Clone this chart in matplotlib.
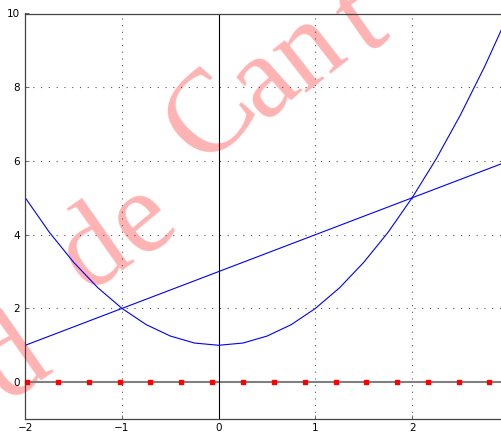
import matplotlib
matplotlib.use('Agg')
import matplotlib.pyplot as plt

# curve samples
curve_x = [-2.0, -1.75, -1.5, -1.25, -1.0, -0.75, -0.5, -0.25, 0.0, 0.25, 0.5,
           0.75, 1.0, 1.25, 1.5, 1.75, 2.0, 2.25, 2.5, 2.75, 3.0]
curve_y = [5.0, 4.06, 3.25, 2.56, 2.0, 1.56, 1.25, 1.06, 1.0, 1.06, 1.25,
           1.56, 2.0, 2.56, 3.25, 4.06, 5.0, 6.06, 7.25, 8.56, 10.0]

# straight line
line_x = [-2.0, -1.0, 0.0, 1.0, 2.0, 3.0]
line_y = [1.0, 2.0, 3.0, 4.0, 5.0, 6.0]

# markers on the x axis
dots_x = [-1.98, -1.66, -1.34, -1.02, -0.71, -0.39, -0.07, 0.25, 0.57, 0.89,
          1.21, 1.52, 1.84, 2.16, 2.48, 2.80]
dots_y = [0.0] * len(dots_x)

xticks = [-2, -1, 0, 1, 2]
yticks = [0, 2, 4, 6, 8, 10]

W, H = 502, 434
fig = plt.figure(figsize=(W / 100, H / 100), dpi=100)
ax = fig.add_axes([25.3 / W, 15 / H, 483.5 / W, 405.5 / H])
ax.set_xlim(-2, 3)
ax.set_ylim(-1, 10)
ax.set_facecolor('none')

# watermark, one glyph at a time along a bent baseline (pixel centre, angle)
stamp = [("d", 14, 362, 35), ("d", 95, 252, 35), ("e", 142, 220, 40),
         ("C", 212, 118, 48), ("a", 264, 82, 42), ("n", 309, 52, 38),
         ("t", 362, 22, 35)]
for ch, px, py, rot in stamp:
    fig.text(px / W, 1 - py / H, ch, fontsize=85, family='Liberation Serif',
             color='#ffb3b3', rotation=rot, rotation_mode='anchor',
             ha='center', va='center', zorder=-1)

# grid
for gx in [-1, 1, 2]:
    ax.axvline(gx, color='#555555', lw=0.8, ls=(0, (1, 5)), zorder=1)
for gy in [2, 4, 6, 8]:
    ax.axhline(gy, color='#555555', lw=0.8, ls=(0, (1, 6)), zorder=1)

ax.axhline(0, color='#808080', lw=1.5, zorder=2)
ax.axvline(0, color='black', lw=0.8, zorder=2)

ax.plot(curve_x, curve_y, color='blue', lw=0.8, zorder=3)
ax.plot(line_x, line_y, color='blue', lw=0.8, zorder=3)
ax.plot(dots_x, dots_y, 's', color='red', ms=3.3, mec='red', zorder=4,
        clip_on=False)

ax.set_xticks(xticks)
ax.set_yticks(yticks)
ax.tick_params(direction='in', length=3, width=0.6, labelsize=7.5,
               colors='#555555', labelcolor='black')
ax.tick_params(axis='x', pad=3)
ax.tick_params(axis='y', pad=4)
for s in ['left', 'bottom', 'top']:
    ax.spines[s].set_linewidth(0.9)
    ax.spines[s].set_color('#444444')
    ax.spines[s].set_zorder(5)
ax.spines['right'].set_visible(False)

fig.savefig('out.png', dpi=100)
